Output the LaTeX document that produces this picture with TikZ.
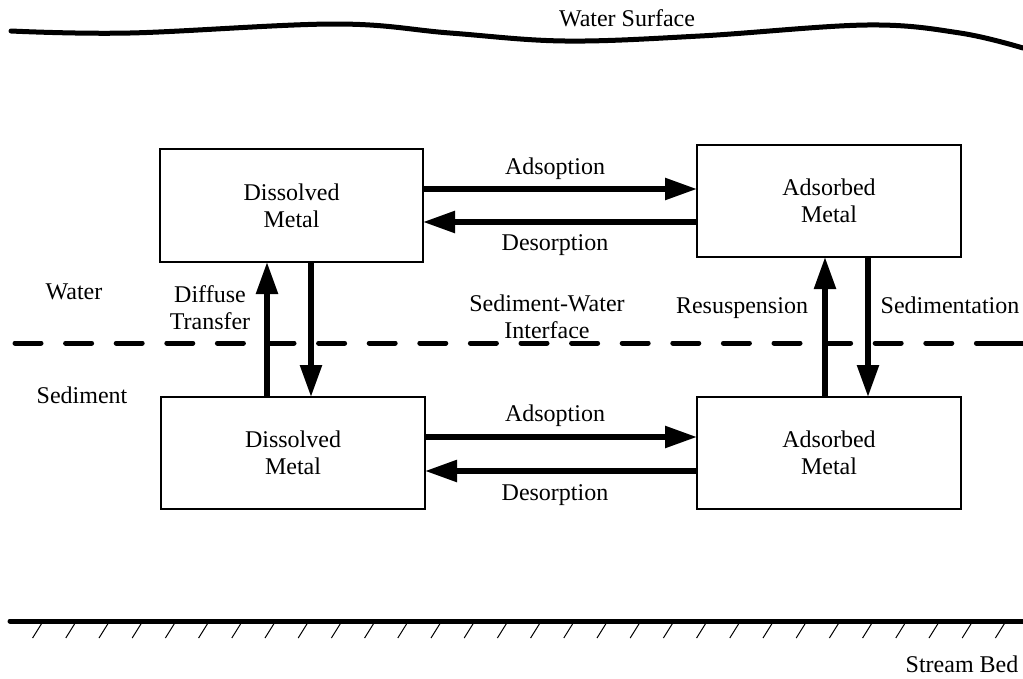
\documentclass[tikz,border=0pt]{standalone}
\usepackage{fontspec}
\setmainfont{Liberation Serif}
\usetikzlibrary{arrows.meta}
\begin{document}
\begin{tikzpicture}[x=1pt,y=-1pt,
  box/.style={draw,line width=1.2pt,inner sep=0pt,outer sep=0pt,align=center,
    font=\fontsize{24}{27}\selectfont},
  lbl/.style={anchor=base,inner sep=0pt,font=\fontsize{24}{27}\selectfont},
  bigarrow/.style={line width=5.5pt,-{Triangle[length=32pt,width=21pt]}},
  thickline/.style={line width=5pt,line cap=round},
  hatch/.style={line width=1pt}]
\useasboundingbox (0,0) rectangle (1023,678);
% water surface
\draw[thickline] plot[smooth,tension=0.6] coordinates {(11,31) (130,33) (335,24) (450,33) (565,41) (700,36) (867,25) (960,33) (1023,48)};
\node[lbl] (ws) at (627,26) {Water Surface};
% boxes
\node[box,minimum width=263pt,minimum height=113pt] (tl) at (291.5,205.5) {Dissolved\\Metal};
\node[box,minimum width=264pt,minimum height=112pt] (tr) at (829,201) {Adsorbed\\Metal};
\node[box,minimum width=264pt,minimum height=112pt] (bl) at (293,453) {Dissolved\\Metal};
\node[box,minimum width=264pt,minimum height=112pt] (br) at (829,453) {Adsorbed\\Metal};
% horizontal arrows top
\path ([yshift=16.5pt]tl.east) coordinate (a1);
\draw[bigarrow] (a1) -- (a1 -| tr.west);
\path ([yshift=-21pt]tr.west) coordinate (d1);
\draw[bigarrow] (d1) -- (d1 -| tl.east);
% horizontal arrows bottom
\path ([yshift=16pt]bl.east) coordinate (a2);
\draw[bigarrow] (a2) -- (a2 -| br.west);
\path ([yshift=-18pt]br.west) coordinate (d2);
\draw[bigarrow] (d2) -- (d2 -| bl.east);
% vertical arrows left
\path ([xshift=-26pt]bl.north) coordinate (u1);
\draw[bigarrow] (u1) -- (u1 |- tl.south);
\path ([xshift=19.5pt]tl.south) coordinate (v1);
\draw[bigarrow] (v1) -- (v1 |- bl.north);
% vertical arrows right
\path ([xshift=-4pt]br.north) coordinate (u2);
\draw[bigarrow] (u2) -- (u2 |- tr.south);
\path ([xshift=39pt]tr.south) coordinate (v2);
\draw[bigarrow] (v2) -- (v2 |- br.north);
% interface dashed line
\draw[line width=5pt,line cap=round,dash pattern=on 26pt off 24.6pt] (15,343) -- (1000,343);
\draw[line width=5pt,line cap=round] (978,343) -- (1023,343);
% labels
\node[lbl] (ad1) at (555,174) {Adsoption};
\node[lbl] (de1) at (555,250) {Desorption};
\node[lbl] (ad2) at (555,421) {Adsoption};
\node[lbl] (de2) at (555,500) {Desorption};
\node[lbl] (wat) at (74,299) {Water};
\node[lbl] (sed) at (82,403) {Sediment};
\node[lbl] (dif1) at (210,302) {Diffuse};
\node[lbl] (dif2) at (210,329) {Transfer};
\node[lbl] (swi1) at (547,311) {Sediment-Water};
\node[lbl] (swi2) at (547,338) {Interface};
\node[lbl] (res) at (742,313) {Resuspension};
\node[lbl] (sdm) at (950,313) {Sedimentation};
% stream bed
\draw[thickline] (10,621) -- (1023,621);
\foreach \i in {0,...,29} \draw[hatch] (32.6+33.2*\i,638) -- ++(10,-16);
\node[lbl] (sb) at (962,672) {Stream Bed};
\end{tikzpicture}
\end{document}
